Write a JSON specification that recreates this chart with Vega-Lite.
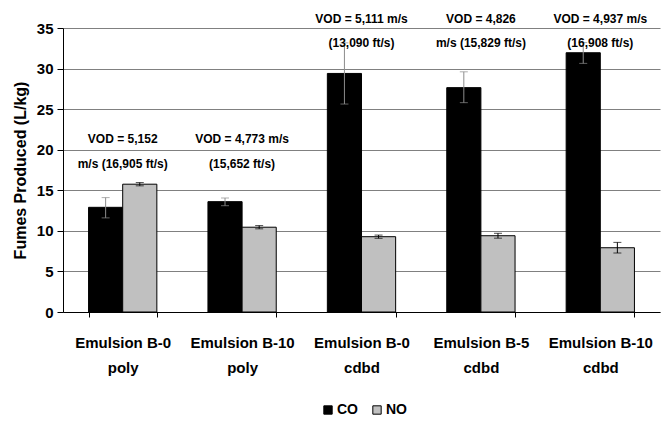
{
  "$schema": "https://vega.github.io/schema/vega-lite/v6.json",
  "autosize": "none",
  "width": 597,
  "height": 284,
  "padding": {"left": 63, "top": 28, "right": 2, "bottom": 109},
  "background": "white",
  "config": {
    "view": {"stroke": null},
    "font": "Liberation Sans",
    "axis": {"labelColor": "black", "titleColor": "black", "domainColor": "black", "tickColor": "black", "domainWidth": 1, "tickWidth": 1}
  },
  "datasets": {
    "bars": [
      {"group": "Emulsion B-0|poly", "series": "CO", "value": 12.9, "lo": 11.6, "hi": 14.1},
      {"group": "Emulsion B-0|poly", "series": "NO", "value": 15.75, "lo": 15.55, "hi": 15.95},
      {"group": "Emulsion B-10|poly", "series": "CO", "value": 13.6, "lo": 13.1, "hi": 14.05},
      {"group": "Emulsion B-10|poly", "series": "NO", "value": 10.45, "lo": 10.25, "hi": 10.65},
      {"group": "Emulsion B-0|cdbd", "series": "CO", "value": 29.4, "lo": 25.63, "hi": 33.17},
      {"group": "Emulsion B-0|cdbd", "series": "NO", "value": 9.28, "lo": 9.08, "hi": 9.48},
      {"group": "Emulsion B-5|cdbd", "series": "CO", "value": 27.65, "lo": 25.8, "hi": 29.6},
      {"group": "Emulsion B-5|cdbd", "series": "NO", "value": 9.4, "lo": 9.1, "hi": 9.7},
      {"group": "Emulsion B-10|cdbd", "series": "CO", "value": 31.95, "lo": 30.64, "hi": 33.2},
      {"group": "Emulsion B-10|cdbd", "series": "NO", "value": 7.92, "lo": 7.27, "hi": 8.58}
    ],
    "notes": [
      {"group": "Emulsion B-0|poly", "ypos": 21.3, "label": "VOD = 5,152"},
      {"group": "Emulsion B-0|poly", "ypos": 18.2, "label": "m/s (16,905 ft/s)"},
      {"group": "Emulsion B-10|poly", "ypos": 21.3, "label": "VOD = 4,773 m/s"},
      {"group": "Emulsion B-10|poly", "ypos": 18.2, "label": "(15,652 ft/s)"},
      {"group": "Emulsion B-0|cdbd", "ypos": 36.1, "label": "VOD = 5,111 m/s"},
      {"group": "Emulsion B-0|cdbd", "ypos": 33.1, "label": "(13,090 ft/s)"},
      {"group": "Emulsion B-5|cdbd", "ypos": 36.1, "label": "VOD = 4,826"},
      {"group": "Emulsion B-5|cdbd", "ypos": 33.1, "label": "m/s (15,829 ft/s)"},
      {"group": "Emulsion B-10|cdbd", "ypos": 36.1, "label": "VOD = 4,937 m/s"},
      {"group": "Emulsion B-10|cdbd", "ypos": 33.1, "label": "(16,908 ft/s)"}
    ]
  },
  "encoding": {
    "x": {
      "field": "group", "type": "nominal",
      "sort": ["Emulsion B-0|poly", "Emulsion B-10|poly", "Emulsion B-0|cdbd", "Emulsion B-5|cdbd", "Emulsion B-10|cdbd"],
      "scale": {"paddingInner": 0.428, "paddingOuter": 0.214},
      "title": null,
      "axis": {"labelExpr": "isValid(datum.value) ? split(datum.value, '|') : ''", "labelFontSize": 15, "labelFontWeight": "bold", "labelLineHeight": 25, "labelAngle": 0, "tickBand": "extent", "tickSize": 5, "labelPadding": 18, "grid": false}
    }
  },
  "layer": [
    {
      "data": {"name": "bars"},
      "mark": {"type": "bar", "stroke": "black", "strokeWidth": 1},
      "encoding": {
        "xOffset": {"field": "series", "type": "nominal", "sort": ["CO", "NO"], "scale": {"paddingInner": 0, "paddingOuter": 0}},
        "y": {
          "field": "value", "type": "quantitative",
          "scale": {"domain": [0, 35], "nice": false},
          "axis": {"values": [0, 5, 10, 15, 20, 25, 30, 35], "grid": true, "gridColor": "#808080", "gridWidth": 1.2, "tickSize": 6, "labelFontSize": 15, "labelFontWeight": "bold", "labelPadding": 4, "titleFontSize": 16, "titleFontWeight": "bold", "titlePadding": 8},
          "title": "Fumes Produced (L/kg)"
        },
        "color": {
          "field": "series", "type": "nominal",
          "scale": {"domain": ["CO", "NO"], "range": ["#000000", "#c0c0c0"]},
          "legend": {"orient": "none", "legendX": 258, "legendY": 375, "direction": "horizontal", "title": null, "symbolType": "square", "symbolSize": 70, "symbolStrokeColor": "black", "symbolStrokeWidth": 1, "labelFontSize": 14, "labelFontWeight": "bold", "labelColor": "black", "labelOffset": 2, "columnPadding": 12}
        }
      }
    },
    {
      "data": {"name": "bars"},
      "mark": {"type": "rule", "strokeWidth": 1},
      "encoding": {
        "xOffset": {"field": "series", "type": "nominal", "sort": ["CO", "NO"]},
        "y": {"field": "lo", "type": "quantitative"},
        "y2": {"field": "hi"},
        "stroke": {"condition": {"test": "datum.series === 'CO'", "value": "#8c8c8c"}, "value": "#000000"}
      }
    },
    {
      "data": {"name": "bars"},
      "mark": {"type": "tick", "orient": "horizontal", "size": 8, "thickness": 1},
      "encoding": {
        "xOffset": {"field": "series", "type": "nominal", "sort": ["CO", "NO"]},
        "y": {"field": "lo", "type": "quantitative"},
        "color": {"condition": {"test": "datum.series === 'CO'", "value": "#8c8c8c"}, "value": "#000000"}
      }
    },
    {
      "data": {"name": "bars"},
      "mark": {"type": "tick", "orient": "horizontal", "size": 8, "thickness": 1},
      "encoding": {
        "xOffset": {"field": "series", "type": "nominal", "sort": ["CO", "NO"]},
        "y": {"field": "hi", "type": "quantitative"},
        "color": {"condition": {"test": "datum.series === 'CO'", "value": "#8c8c8c"}, "value": "#000000"}
      }
    },
    {
      "data": {"name": "notes"},
      "mark": {"type": "text", "fontSize": 12, "fontWeight": "bold", "baseline": "middle", "align": "center", "color": "black"},
      "encoding": {
        "y": {"field": "ypos", "type": "quantitative"},
        "text": {"field": "label"}
      }
    }
  ]
}
